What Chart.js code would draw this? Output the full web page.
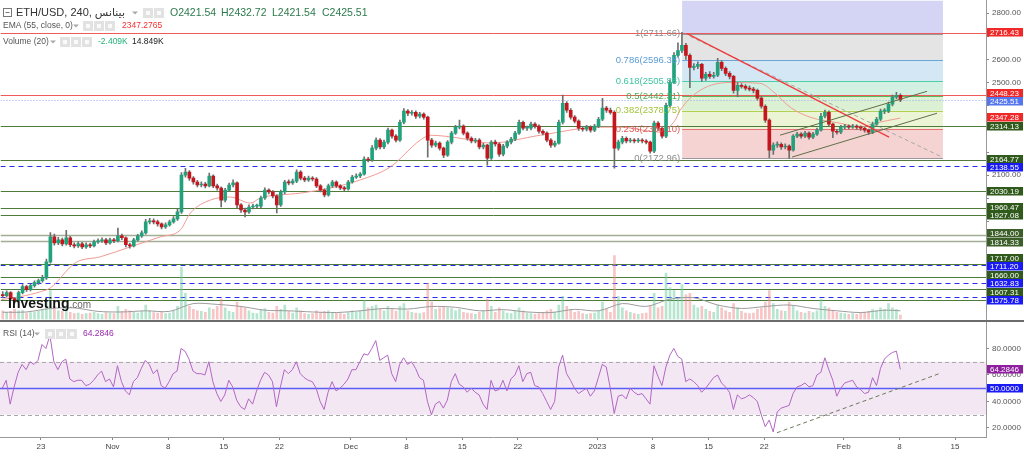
<!DOCTYPE html>
<html><head><meta charset="utf-8">
<script src="https://cdn.jsdelivr.net/npm/chart.js@4.4.1/dist/chart.umd.min.js"></script>
<style>
html,body{margin:0;padding:0;background:#fff;width:1024px;height:457px;overflow:hidden}
#main{position:absolute;left:0;top:0}
#rsi{position:absolute;left:0;top:322px}
#sep{position:absolute;left:0;top:320px;width:1024px;height:2px;background:#6b6b6b}
</style></head><body>
<canvas id="main" width="1024" height="320"></canvas>
<div id="sep"></div>
<canvas id="rsi" width="1024" height="135"></canvas>
<script>
// ---------- DATA (days counted from 1 Nov 2022) ----------
const candleStartDay = -13.875;
const candleStepDays = 0.5;
const firstOpen = 1585;
const closes = [1580,1593,1567,1558,1593,1619,1606,1623,1636,1645,
1657,1726,1834,1808,1821,1804,1830,1800,1795,1804,
1791,1800,1795,1812,1817,1821,1808,1821,1817,1838,
1830,1800,1795,1821,1838,1851,1899,1903,1899,1890,
1877,1886,1899,1912,1942,2101,2114,2088,2071,2058,
2062,2054,2097,2054,2045,1993,2036,2058,2067,1972,
1950,1942,1963,1967,1967,2002,2036,2028,2011,1972,
2028,2071,2067,2075,2114,2088,2080,2088,2084,2054,
2036,2015,2054,2071,2054,2045,2041,2071,2092,2097,
2105,2170,2166,2217,2252,2222,2243,2295,2269,2252,
2329,2377,2368,2372,2355,2364,2351,2252,2230,2239,
2217,2187,2243,2282,2308,2312,2282,2260,2248,2252,
2222,2230,2174,2243,2235,2191,2226,2243,2256,2282,
2329,2303,2303,2321,2312,2290,2282,2252,2230,2239,
2329,2411,2381,2351,2334,2303,2299,2308,2295,2312,
2342,2390,2381,2372,2217,2243,2260,2248,2252,2248,
2252,2248,2243,2204,2325,2303,2269,2402,2502,2618,
2639,2661,2618,2566,2570,2579,2519,2536,2527,2532,
2588,2562,2540,2527,2467,2489,2484,2476,2472,2467,
2433,2398,2338,2209,2230,2234,2222,2226,2209,2269,
2278,2269,2282,2265,2278,2295,2355,2372,2321,2290,
2286,2308,2312,2308,2312,2308,2303,2295,2286,2321,
2342,2377,2377,2407,2437,2445,2425.51];
const highs = [1598,1601,1598,1572,1600,1628,1625,1631,1644,1652,
1668,1738,1852,1846,1832,1829,1862,1836,1808,1812,
1810,1808,1806,1820,1825,1830,1828,1829,1828,1872,
1846,1834,1806,1828,1845,1860,1910,1914,1912,1906,
1895,1895,1906,1922,1955,2112,2130,2120,2094,2078,
2072,2070,2110,2102,2062,2050,2044,2066,2080,2072,
1978,1958,1972,1976,1976,2010,2046,2042,2034,2016,
2036,2078,2080,2084,2124,2120,2095,2096,2094,2090,
2060,2042,2062,2078,2076,2060,2052,2078,2100,2106,
2112,2180,2178,2228,2262,2258,2252,2304,2300,2276,
2338,2388,2384,2380,2378,2372,2370,2356,2260,2248,
2244,2222,2250,2290,2316,2338,2318,2288,2266,2260,
2258,2238,2234,2250,2252,2240,2234,2250,2264,2290,
2338,2334,2312,2330,2328,2318,2296,2288,2258,2248,
2338,2446,2418,2388,2358,2340,2310,2316,2314,2320,
2350,2432,2398,2390,2378,2252,2268,2266,2260,2258,
2260,2258,2254,2248,2334,2332,2310,2412,2512,2630,
2672,2717,2670,2625,2582,2590,2584,2545,2548,2545,
2605,2595,2568,2548,2532,2500,2496,2492,2486,2480,
2472,2440,2404,2344,2240,2244,2240,2236,2232,2276,
2286,2284,2290,2288,2286,2304,2368,2382,2378,2326,
2298,2316,2320,2318,2320,2318,2314,2308,2300,2330,
2350,2386,2388,2416,2446,2458,2452];
const lows = [1570,1574,1560,1548,1552,1588,1598,1600,1617,1628,
1638,1650,1720,1798,1800,1795,1798,1792,1786,1788,
1783,1784,1787,1790,1806,1810,1800,1802,1809,1812,
1822,1790,1785,1790,1815,1832,1846,1890,1890,1880,
1868,1870,1880,1893,1905,1935,2092,2078,2062,2050,
2050,2045,2050,2046,2036,1963,1985,2030,2050,1960,
1940,1920,1935,1955,1958,1960,1996,2020,2002,1937,
1966,2020,2058,2060,2068,2080,2072,2074,2076,2046,
2028,2006,2010,2048,2046,2038,2034,2036,2066,2086,
2090,2100,2158,2160,2210,2214,2215,2236,2260,2244,
2246,2322,2358,2360,2346,2348,2342,2178,2220,2222,
2208,2176,2182,2236,2276,2300,2274,2252,2240,2240,
2214,2214,2144,2168,2226,2182,2184,2218,2236,2250,
2276,2296,2294,2296,2304,2282,2274,2244,2220,2222,
2234,2322,2372,2342,2326,2294,2290,2292,2286,2288,
2306,2336,2372,2364,2131,2208,2236,2240,2242,2240,
2242,2240,2236,2196,2198,2294,2260,2262,2396,2496,
2610,2630,2600,2478,2555,2560,2505,2510,2518,2520,
2526,2552,2530,2516,2455,2440,2476,2468,2464,2456,
2424,2390,2328,2176,2190,2220,2212,2214,2173,2204,
2262,2260,2262,2256,2258,2272,2290,2348,2312,2262,
2278,2280,2300,2300,2302,2298,2294,2286,2276,2280,
2314,2336,2366,2370,2400,2430,2418];
const volumesK = [30,25,28,35,30,32,22,24,26,28,
35,60,100,45,30,28,40,25,20,22,
18,20,22,25,20,18,24,22,20,45,
28,35,30,25,22,28,50,30,24,22,
25,20,22,30,45,180,90,45,35,30,
28,25,40,35,45,70,40,28,25,60,
45,40,30,22,20,35,38,25,22,45,
35,50,28,22,40,30,20,18,20,30,
25,28,30,25,22,20,18,24,30,25,
28,65,40,45,50,35,30,45,35,28,
45,55,30,25,22,20,24,125,60,35,
40,45,40,38,30,35,25,22,20,18,
25,28,70,45,25,40,30,22,20,28,
40,30,22,20,18,20,24,30,35,25,
50,80,45,35,25,28,20,18,20,22,
30,60,35,25,220,80,40,30,25,20,
18,20,22,45,90,40,45,160,110,100,
70,120,85,90,50,40,45,35,28,25,
50,40,30,25,55,40,28,22,20,22,
35,40,60,100,55,35,30,28,60,45,
30,25,22,28,24,30,70,45,40,30,
25,22,20,18,20,18,22,25,28,35,
30,40,35,55,40,35,15];
const volMACandleIdx = [0,6,12,18,24,30,36,42,48,54,60,66,72,78,84,90,96,102,108,114,120,126,132,138,144,150,156,162,168,174,180,186,192,198,204,210,216,222,226];
const volMAK = [25,26,38,40,28,26,30,28,55,52,45,32,30,26,24,30,38,36,45,42,30,34,26,24,35,30,55,45,70,75,50,38,45,50,38,30,24,32,30];
const emaDays = [-14.03,-11.64,-9.12,-7.86,-4.72,-1.57,2.2,5.98,8.49,9.75,12.27,14.78,17.3,18.56,23.59,27.37,31.14,34.91,38.69,39.95,43.72,47.5,53.79,61.34,63.85,68.89,70.77,71.4,73.92,77.7,81.47,83.36,85.25,87.76,91.54,94.05,95.94,99.125];
const emaValues = [1563,1576,1597,1614,1722,1748,1791,1834,1864,1937,1993,2006,1980,2002,2023,2045,2080,2136,2252,2273,2260,2239,2273,2308,2308,2286,2338,2381,2467,2501,2497,2454,2394,2351,2325,2308,2325,2347.28];
const rsiValues = [50,56,38,51,62,68,64,70,68,71,
83,80,90,70,64,70,72,57,55,56,
56,52,53,56,60,63,55,57,51,67,
55,48,45,55,58,65,71,68,61,64,
52,50,55,61,63,80,78,72,63,61,
61,60,70,55,46,40,45,56,51,41,
36,34,42,38,48,56,62,60,55,36,
51,64,61,64,70,61,58,56,55,50,
40,34,47,55,48,50,53,57,64,64,
70,76,75,80,86,71,73,75,61,55,
68,73,68,70,65,58,56,40,30,38,
40,35,41,55,61,53,51,47,50,47,
45,38,34,56,48,49,56,48,57,60,
67,55,61,62,52,51,46,40,34,40,
66,75,61,56,50,46,48,50,44,48,
58,68,66,50,31,44,45,42,50,47,
45,46,42,38,67,59,52,66,75,80,
74,72,55,57,55,52,47,50,54,58,
60,54,51,47,34,45,42,43,45,43,
40,30,21,26,17,32,35,36,37,46,
51,52,54,51,52,60,62,73,64,56,
44,50,54,55,56,51,49,46,47,58,
52,65,72,75,77,78,64.28];

const resistanceLevels = [2716.43, 2448.23];
const supportLevels = [2314.13, 2164.77, 2030.19, 1960.47, 1927.08, 1717.00, 1660.00, 1607.31];
const minorSupportLevels = [1844.00, 1814.33];
const unlabeledSupportLevels = [1560];
const blueDashedLevels = [2138.55, 1711.20, 1632.83, 1575.78];
const lastPrice = 2425.51;
const emaLast = 2347.28;

const fibHigh = 2711.66, fibLow = 2172.96;
const fibRatios = [1, 0.786, 0.618, 0.5, 0.382, 0.236, 0];
const fibLabels = ['1(2711.66)','0.786(2596.38)','0.618(2505.88)','0.5(2442.31)','0.382(2378.75)','0.236(2300.10)','0(2172.96)'];
const fibStartDay = 71.65, fibEndDay = 104.48;

const redTrendDays = [72.28, 97.7], redTrendPrices = [2711.66, 2264.7];
const grayTrendDays = [72.66, 104.11], grayTrendPrices = [2699.7, 2182.9];
const channelUpDays = [83.98, 102.48], channelUpPrices = [2273.3, 2462.8];
const channelLowDays = [85.49, 103.73], channelLowPrices = [2178.6, 2368.0];
const rsiTrendDays = [83.6, 104.1], rsiTrendValues = [16.4, 61.2];

const xTickDays = [-9,0,7,14,21,30,37,44,51,61,68,75,82,92,99,106];
const xTickLabels = ['23','Nov','8','15','22','Dec','8','15','22','2023','8','15','22','Feb','8','15'];
const priceTicks = [1600,1700,1800,1900,2000,2100,2200,2300,2400,2500,2600,2700,2800];
const rsiTicks = [20,40,60,80];

// ---------- view ----------
const X_MIN = -14.154, X_MAX = 109.9;
const F = '"Liberation Sans", Arial, "DejaVu Sans", sans-serif';
const UP = '#22a27c', DOWN = '#c4161c';
const LABEL_H = 8.5;

const dayOf = i => candleStartDay + candleStepDays * i;
const opens = closes.map((c, i) => i === 0 ? firstOpen : closes[i - 1]);
const bodyData = closes.map((c, i) => ({x: dayOf(i), y: [opens[i], c]}));
const wickData = closes.map((c, i) => ({x: dayOf(i), y: [Math.min(lows[i], opens[i], c), Math.max(highs[i], opens[i], c)]}));
const bodyColors = closes.map((c, i) => c >= opens[i] ? UP : DOWN);
const volData = volumesK.map((v, i) => ({x: dayOf(i), y: v}));
const volColors = closes.map((c, i) => c >= opens[i] ? 'rgba(110,205,160,0.5)' : 'rgba(240,140,140,0.5)');
const volMAData = volMACandleIdx.map((k, j) => ({x: dayOf(k), y: volMAK[j]}));
const emaData = emaDays.map((d, j) => ({x: d, y: emaValues[j]}));
const rsiData = rsiValues.map((v, i) => ({x: dayOf(i), y: v}));

function line(ctx, x1, y1, x2, y2, color, w, dash) {
  ctx.save(); ctx.strokeStyle = color; ctx.lineWidth = w; ctx.setLineDash(dash || []);
  ctx.beginPath(); ctx.moveTo(x1, y1); ctx.lineTo(x2, y2); ctx.stroke(); ctx.restore();
}
function icons(ctx, x, y, n) {
  for (let k = 0; k < n; k++) {
    ctx.fillStyle = '#e2e2e2'; ctx.fillRect(x + k * 11, y - 5, 10, 10);
    ctx.fillStyle = '#fafafa'; ctx.fillRect(x + k * 11 + 3, y - 2, 4, 4);
  }
}
function tri(ctx, x, y) {
  ctx.fillStyle = '#aaa'; ctx.beginPath(); ctx.moveTo(x, y - 1.5); ctx.lineTo(x + 6, y - 1.5); ctx.lineTo(x + 3, y + 1.5); ctx.closePath(); ctx.fill();
}
function layoutLabels(items, h) {
  items.sort((a, b) => a.y - b.y);
  let groups = items.map(it => ({items: [it], sum: it.y}));
  let changed = true;
  while (changed) {
    changed = false;
    for (let k = 0; k < groups.length - 1; k++) {
      const g1 = groups[k], g2 = groups[k + 1];
      const c1 = g1.sum / g1.items.length, c2 = g2.sum / g2.items.length;
      if (c1 + g1.items.length * h / 2 > c2 - g2.items.length * h / 2) {
        groups.splice(k, 2, {items: g1.items.concat(g2.items), sum: g1.sum + g2.sum});
        changed = true; break;
      }
    }
  }
  groups.forEach(g => {
    const n = g.items.length, c = g.sum / n;
    g.items.forEach((it, j) => { it.yc = c - n * h / 2 + h * (j + 0.5); });
  });
  return items;
}
function priceLabels(yScale) {
  const items = [];
  resistanceLevels.forEach(v => items.push({v, bg: '#f02828'}));
  supportLevels.forEach(v => items.push({v, bg: '#2f5a1c'}));
  minorSupportLevels.forEach(v => items.push({v, bg: '#3c5f2a'}));
  blueDashedLevels.forEach(v => items.push({v, bg: '#1a1af5'}));
  items.push({v: lastPrice, bg: '#5577ee'});
  items.push({v: emaLast, bg: '#f02828'});
  items.forEach(it => it.y = yScale.getPixelForValue(it.v));
  return layoutLabels(items, LABEL_H);
}
function drawPriceLabel(ctx, x, yc, h, bg, txt) {
  ctx.fillStyle = bg; ctx.fillRect(x, Math.round(yc - h / 2), 36, h);
  ctx.fillStyle = '#fff'; ctx.font = '8px ' + F; ctx.textBaseline = 'middle'; ctx.textAlign = 'left';
  ctx.fillText(txt, x + 3, Math.round(yc - h / 2) + h / 2 + 0.5);
}

const mainDeco = {
  id: 'mainDeco',
  beforeDatasetsDraw(chart) {
    const {ctx, chartArea: a, scales: {x, y}} = chart;
    ctx.save();
    ctx.beginPath(); ctx.rect(a.left, a.top, a.right - a.left, a.bottom - a.top); ctx.clip();
    const fx1 = x.getPixelForValue(fibStartDay), fx2 = x.getPixelForValue(fibEndDay);
    const lv = fibRatios.map(r => y.getPixelForValue(fibLow + r * (fibHigh - fibLow)));
    const zoneColors = ['#e4e4e4', '#d3e7f5', '#d2f1e3', '#dcf1d3', '#ecf4d6', '#f5d3d3'];
    const lineColors = ['#9a9a9a', '#6aa6d8', '#4fcfa6', '#5cb85c', '#b0d050', '#e57373', '#9a9a9a'];
    ctx.fillStyle = '#d4d4f4'; ctx.fillRect(fx1, a.top, fx2 - fx1, lv[0] - a.top);
    for (let k = 0; k < 6; k++) { ctx.fillStyle = zoneColors[k]; ctx.fillRect(fx1, lv[k], fx2 - fx1, lv[k + 1] - lv[k]); }
    for (let k = 0; k < 7; k++) line(ctx, fx1, Math.round(lv[k]) + 0.5, fx2, Math.round(lv[k]) + 0.5, lineColors[k], 1);
    const hy = v => Math.round(y.getPixelForValue(v)) + 0.5;
    supportLevels.concat(unlabeledSupportLevels).forEach(v => line(ctx, a.left, hy(v), a.right, hy(v), '#4e7a3a', 1));
    minorSupportLevels.forEach(v => line(ctx, a.left, hy(v), a.right, hy(v), '#9fae95', 1.3));
    resistanceLevels.forEach(v => line(ctx, a.left, hy(v), a.right, hy(v), '#f05a5a', 1));
    blueDashedLevels.forEach(v => line(ctx, a.left, hy(v), a.right, hy(v), '#2b2bf0', 1, [5, 4]));
    line(ctx, a.left, hy(lastPrice), a.right, hy(lastPrice), '#8ea6ee', 1, [1, 2]);
    ctx.restore();
  },
  afterDatasetsDraw(chart) {
    const {ctx, chartArea: a, scales: {x, y}} = chart;
    ctx.save();
    ctx.beginPath(); ctx.rect(a.left, a.top, a.right - a.left, a.bottom - a.top); ctx.clip();
    const seg = (ds, ps, c, w, dash) => line(ctx, x.getPixelForValue(ds[0]), y.getPixelForValue(ps[0]), x.getPixelForValue(ds[1]), y.getPixelForValue(ps[1]), c, w, dash);
    seg(grayTrendDays, grayTrendPrices, '#a8a8a8', 1, [4, 3]);
    seg(redTrendDays, redTrendPrices, '#f03c3c', 1.3);
    seg(channelUpDays, channelUpPrices, '#5f7048', 1);
    seg(channelLowDays, channelLowPrices, '#5f7048', 1);
    const fx1 = x.getPixelForValue(fibStartDay);
    const labColors = ['#8c8c8c', '#5b9bd5', '#3fc4a0', '#4caf50', '#a4c43c', '#e05a5a', '#8c8c8c'];
    ctx.font = '9.5px ' + F; ctx.textAlign = 'right'; ctx.textBaseline = 'middle';
    fibRatios.forEach((r, k) => {
      ctx.fillStyle = labColors[k];
      ctx.fillText(fibLabels[k], fx1 - 2, y.getPixelForValue(fibLow + r * (fibHigh - fibLow)));
    });
    ctx.textAlign = 'left'; ctx.textBaseline = 'alphabetic';
    ctx.font = 'bold 14px ' + F; ctx.fillStyle = '#151515';
    ctx.fillText('Investing', 8, 308);
    const w = ctx.measureText('Investing').width;
    ctx.font = '10px ' + F; ctx.fillStyle = '#666';
    ctx.fillText('.com', 8 + w, 308);
    ctx.restore();
  },
  afterDraw(chart) {
    const {ctx, chartArea: a, scales: {y}} = chart;
    priceLabels(y).forEach(it => drawPriceLabel(ctx, a.right + 1, it.yc, LABEL_H, it.bg, it.v.toFixed(2)));
    ctx.save();
    ctx.textBaseline = 'middle'; ctx.textAlign = 'left';
    ctx.strokeStyle = '#777'; ctx.lineWidth = 1; ctx.strokeRect(3.5, 8.5, 8, 8);
    line(ctx, 5.5, 12.5, 9.5, 12.5, '#777', 1);
    ctx.font = '11px ' + F; ctx.fillStyle = '#333';
    ctx.fillText('ETH/USD, 240, بينانس', 16, 13);
    tri(ctx, 132, 13); icons(ctx, 143, 13, 2);
    ctx.font = '10.5px ' + F; ctx.fillStyle = '#2b7a4b';
    ctx.fillText('O2421.54', 170, 13); ctx.fillText('H2432.72', 221, 13);
    ctx.fillText('L2421.54', 272, 13); ctx.fillText('C2425.51', 322, 13);
    ctx.font = '8.5px ' + F; ctx.fillStyle = '#555';
    ctx.fillText('EMA (55, close, 0)', 3, 26); tri(ctx, 73, 26); icons(ctx, 83, 26, 3);
    ctx.fillStyle = '#f23030'; ctx.fillText('2347.2765', 122, 26);
    ctx.fillStyle = '#555'; ctx.fillText('Volume (20)', 3, 42); tri(ctx, 50, 42); icons(ctx, 60, 42, 3);
    ctx.fillStyle = '#22b37a'; ctx.fillText('-2.409K', 98, 42);
    ctx.fillStyle = '#222'; ctx.fillText('14.849K', 132, 42);
    ctx.restore();
  }
};

let mainChart = null;
function priceTickColor(c) {
  if (!mainChart || !c.tick) return '#555';
  const ys = mainChart.scales.y;
  const py = ys.getPixelForValue(c.tick.value);
  const hidden = priceLabels(ys).some(it => Math.abs(it.yc - py) < 7);
  return hidden ? 'rgba(0,0,0,0)' : '#555';
}

mainChart = new Chart(document.getElementById('main'), {
  type: 'bar',
  data: {datasets: [
    {type: 'bar', data: volData, yAxisID: 'yVol', backgroundColor: volColors, barThickness: 2, grouped: false, order: 10},
    {type: 'line', data: volMAData, yAxisID: 'yVol', borderColor: '#9c9c9c', borderWidth: 1, pointRadius: 0, tension: 0.3, order: 9},
    {type: 'line', data: emaData, yAxisID: 'y', borderColor: '#f29a92', borderWidth: 1, pointRadius: 0, cubicInterpolationMode: 'monotone', order: 5},
    {type: 'bar', data: wickData, yAxisID: 'y', backgroundColor: '#6f6f6f', barThickness: 1, grouped: false, order: 3},
    {type: 'bar', data: bodyData, yAxisID: 'y', backgroundColor: bodyColors, barThickness: 3, minBarLength: 1, grouped: false, order: 2}
  ]},
  options: {
    responsive: false, animation: false, devicePixelRatio: 1, events: [],
    layout: {padding: 0},
    plugins: {legend: {display: false}, tooltip: {enabled: false}},
    scales: {
      x: {type: 'linear', min: X_MIN, max: X_MAX, display: false, offset: false},
      y: {type: 'linear', position: 'right', min: 1477, max: 2855,
          afterFit(s) { s.width = 38; s.paddingTop = 0; s.paddingBottom = 0; },
          afterBuildTicks(s) { s.ticks = priceTicks.map(v => ({value: v})); },
          ticks: {callback: v => Number(v).toFixed(2), font: {size: 8, family: F}, color: priceTickColor, padding: 3},
          grid: {drawOnChartArea: false, tickLength: 3, color: '#888'},
          border: {color: '#999'}},
      yVol: {type: 'linear', display: false, min: 0, max: 1100}
    }
  },
  plugins: [mainDeco]
});
mainChart.update('none');

const rsiDeco = {
  id: 'rsiDeco',
  beforeDatasetsDraw(chart) {
    const {ctx, chartArea: a, scales: {y}} = chart;
    const y70 = y.getPixelForValue(70), y30 = y.getPixelForValue(30), y50 = y.getPixelForValue(50);
    ctx.fillStyle = 'rgba(150,60,160,0.12)';
    ctx.fillRect(a.left, y70, a.right - a.left, y30 - y70);
    line(ctx, a.left, Math.round(y70) + 0.5, a.right, Math.round(y70) + 0.5, '#a8a8a8', 1, [4, 3]);
    line(ctx, a.left, Math.round(y30) + 0.5, a.right, Math.round(y30) + 0.5, '#a8a8a8', 1, [4, 3]);
    line(ctx, a.left, Math.round(y50) + 0.5, a.right, Math.round(y50) + 0.5, '#5b5bf5', 1.5);
  },
  afterDatasetsDraw(chart) {
    const {ctx, scales: {x, y}} = chart;
    line(ctx, x.getPixelForValue(rsiTrendDays[0]), y.getPixelForValue(rsiTrendValues[0]), x.getPixelForValue(rsiTrendDays[1]), y.getPixelForValue(rsiTrendValues[1]), '#6d7a5c', 1, [4, 3]);
  },
  afterDraw(chart) {
    const {ctx, chartArea: a, scales: {y}} = chart;
    drawPriceLabel(ctx, a.right + 1, y.getPixelForValue(64.2846), LABEL_H, '#8e1f9e', '64.2846');
    drawPriceLabel(ctx, a.right + 1, y.getPixelForValue(50), LABEL_H, '#1a1af5', '50.0000');
    ctx.save(); ctx.textBaseline = 'middle'; ctx.textAlign = 'left';
    ctx.font = '8.5px ' + F; ctx.fillStyle = '#555';
    ctx.fillText('RSI (14)', 3, 12); tri(ctx, 34, 12); icons(ctx, 45, 12, 3);
    ctx.fillStyle = '#9c27b0'; ctx.fillText('64.2846', 83, 12);
    ctx.restore();
  }
};

new Chart(document.getElementById('rsi'), {
  type: 'line',
  data: {datasets: [{data: rsiData, borderColor: '#b266c4', borderWidth: 1, pointRadius: 0, tension: 0}]},
  options: {
    responsive: false, animation: false, devicePixelRatio: 1, events: [],
    layout: {padding: 0},
    plugins: {legend: {display: false}, tooltip: {enabled: false}},
    scales: {
      x: {type: 'linear', min: X_MIN, max: X_MAX, offset: false,
          afterFit(s) { s.height = 20; s.paddingLeft = 0; s.paddingRight = 0; },
          afterBuildTicks(s) { s.ticks = xTickDays.map(v => ({value: v})); },
          ticks: {autoSkip: false, maxRotation: 0, padding: 2, font: {size: 8, family: F}, color: '#444',
                  callback: (v) => { const k = xTickDays.indexOf(v); return k >= 0 ? xTickLabels[k] : ''; }},
          grid: {drawOnChartArea: false, tickLength: 3, color: '#888'},
          border: {color: '#999'}},
      y: {type: 'linear', position: 'right', min: 13.2, max: 100,
          afterFit(s) { s.width = 38; s.paddingTop = 0; s.paddingBottom = 0; },
          afterBuildTicks(s) { s.ticks = rsiTicks.map(v => ({value: v})); },
          ticks: {callback: v => Number(v).toFixed(4), font: {size: 8, family: F}, color: '#555', padding: 3},
          grid: {drawOnChartArea: false, tickLength: 3, color: '#888'},
          border: {color: '#999'}}
    }
  },
  plugins: [rsiDeco]
});
</script>
</body></html>
